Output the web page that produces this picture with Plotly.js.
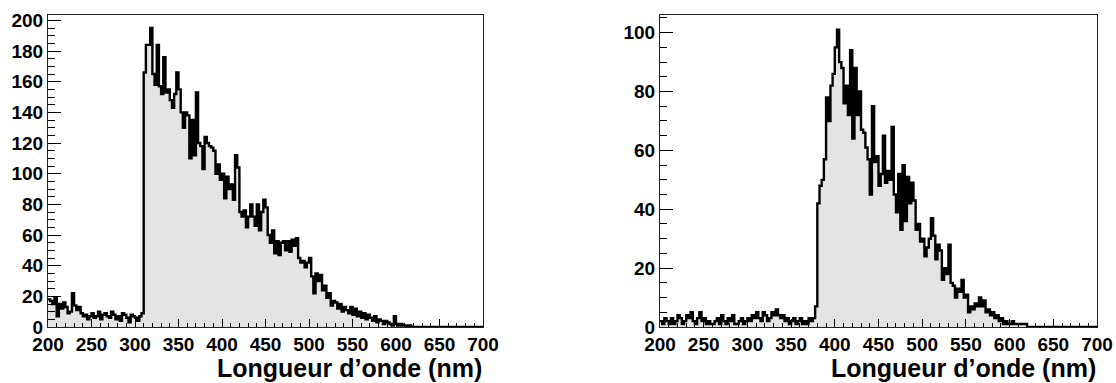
<!DOCTYPE html>
<html>
<head>
<meta charset="utf-8">
<script src="https://cdn.plot.ly/plotly-3.0.1.min.js"></script>
<style>html,body{margin:0;padding:0;background:#fff;}#chart{width:1116px;height:383px;}</style>
</head>
<body>
<div id="chart"></div>
<script>
// Histogram bins: 200 bins of 2.5 nm from 200 to 700 nm
const binStart = 200;
const binWidth = 2.5;

const countsLeft = [
  18,17,15,19,7,15,12,16,13,9,
  10,22,14,11,13,9,7,8,5,7,
  9,6,7,10,5,8,9,7,6,10,
  8,5,7,4,9,8,6,3,8,7,
  6,4,7,9,166,184,184,195,165,158,
  184,157,152,176,153,155,148,143,152,166,
  155,140,130,140,138,110,135,112,153,120,
  118,103,124,120,118,117,115,100,106,96,
  100,84,98,90,93,83,112,104,75,72,
  76,65,72,80,72,66,80,63,75,83,
  78,60,55,63,48,56,47,55,56,50,
  56,49,57,53,58,45,42,43,39,42,
  45,33,22,35,30,34,24,27,19,22,
  14,17,16,12,15,10,13,11,9,13,
  8,12,7,10,6,9,5,8,6,4,
  7,3,5,4,2,4,3,2,1,7,
  2,1,2,1,1,0,1,0,0,0,
  0,0,0,0,0,0,0,0,0,0,
  0,0,0,0,0,0,0,0,0,0,
  0,0,0,0,0,0,0,0,0,0
];

const countsRight = [
  2,1,3,2,1,3,1,2,4,3,
  1,2,4,3,5,2,1,3,5,2,
  3,1,2,1,1,2,3,1,4,2,
  1,3,2,4,1,1,2,3,1,2,
  3,2,4,3,5,3,2,5,4,2,
  3,5,4,6,4,3,4,2,3,1,
  2,3,1,2,3,1,2,1,3,2,
  3,7,42,48,50,57,78,70,82,86,
  95,101,90,88,76,82,72,94,64,88,
  72,80,67,66,61,57,45,75,56,58,
  48,52,65,49,53,50,68,45,39,52,
  33,55,36,51,42,49,43,33,35,29,
  30,24,27,30,37,31,23,28,26,16,
  20,18,28,15,14,10,13,12,16,10,
  11,5,7,6,8,7,10,7,9,5,
  6,4,5,3,4,2,3,1,2,1,
  1,2,1,1,1,1,1,1,0,0,
  0,0,0,0,0,0,0,0,0,0,
  0,0,0,0,0,0,0,0,0,0,
  0,0,0,0,0,0,0,0,0,0
];

const xTitle = 'Longueur d\u2019onde (nm)';
const xTickVals = [200,250,300,350,400,450,500,550,600,650,700];
const yTickValsLeft = [0,20,40,60,80,100,120,140,160,180,200];
const yTickValsRight = [0,20,40,60,80,100];

function stepTrace(counts, xa, ya) {
  const x = counts.map((_, i) => binStart + i * binWidth);
  x.push(binStart + counts.length * binWidth);
  const y = counts.concat([counts[counts.length - 1]]);
  return {
    type: 'scatter', mode: 'lines', x: x, y: y,
    xaxis: xa, yaxis: ya,
    line: {shape: 'hv', color: '#000', width: 2.4},
    fill: 'tozeroy', fillcolor: '#e4e4e4',
    hoverinfo: 'skip', showlegend: false
  };
}

const FAM = 'Liberation Sans, Arial, sans-serif';
const font = {family: FAM, size: 19, color: '#000', weight: 700};
const bold = v => '<b>' + v + '</b>';

function xAxis(domain, anchor) {
  return {
    domain: domain, anchor: anchor, range: [200, 700],
    tickvals: xTickVals, ticktext: xTickVals.map(bold),
    ticks: 'inside', ticklen: 8, tickwidth: 1, tickcolor: '#000',
    minor: {dtick: 10, tick0: 200, ticks: 'inside', ticklen: 4, tickcolor: '#000', tickwidth: 1},
    showline: true, linecolor: '#222', linewidth: 1, mirror: true,
    showgrid: false, zeroline: false, tickfont: font, ticklabelstandoff: 0
  };
}
function yAxis(domain, anchor, range, tv) {
  return {
    domain: domain, anchor: anchor, range: range,
    tickvals: tv, ticktext: tv.map(bold),
    ticks: 'inside', ticklen: 13, tickwidth: 1, tickcolor: '#000',
    minor: {dtick: 5, tick0: 0, ticks: 'inside', ticklen: 7, tickcolor: '#000', tickwidth: 1},
    showline: true, linecolor: '#222', linewidth: 1, mirror: true,
    showgrid: false, zeroline: false, tickfont: font, ticklabelstandoff: 0
  };
}

const yDom = [56/383, 368/383];
const titleFont = {family: FAM, size: 25, color: '#000', weight: 700};
const layout = {
  width: 1116, height: 383,
  margin: {l: 0, r: 0, t: 0, b: 0},
  paper_bgcolor: '#fff', plot_bgcolor: '#fff',
  xaxis: xAxis([48/1116, 483/1116], 'y'),
  yaxis: yAxis(yDom, 'x', [0, 203.5], yTickValsLeft),
  xaxis2: xAxis([660/1116, 1097/1116], 'y2'),
  yaxis2: yAxis(yDom, 'x2', [0, 106], yTickValsRight),
  annotations: [
    {text: bold(xTitle), xref: 'x domain', yref: 'paper', x: 1, y: 15/383, xanchor: 'right', yanchor: 'middle', showarrow: false, borderpad: 0, font: titleFont},
    {text: bold(xTitle), xref: 'x2 domain', yref: 'paper', x: 1, y: 15/383, xanchor: 'right', yanchor: 'middle', showarrow: false, borderpad: 0, font: titleFont}
  ]
};

Plotly.newPlot('chart', [stepTrace(countsLeft, 'x', 'y'), stepTrace(countsRight, 'x2', 'y2')], layout, {staticPlot: true, displayModeBar: false});
</script>
</body>
</html>
